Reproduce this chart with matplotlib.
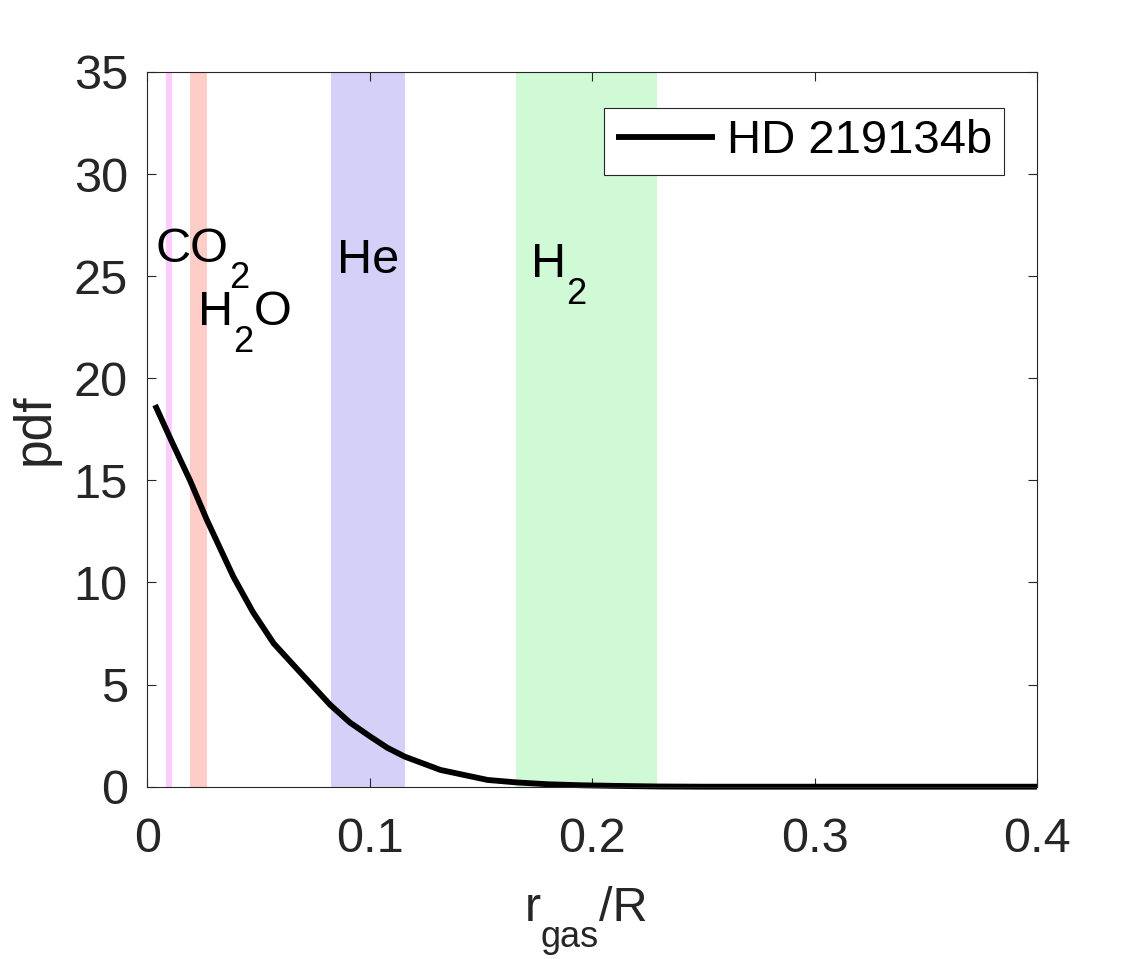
import matplotlib
matplotlib.use('Agg')
import matplotlib.pyplot as plt

# ---- data ----
r_gas = [0.0035, 0.0110, 0.0192, 0.0268, 0.0387, 0.0475, 0.0568, 0.0700, 0.0823,
         0.0910, 0.1003, 0.1080, 0.1158, 0.1318, 0.1530, 0.1660, 0.1800, 0.1950,
         0.2100, 0.2300, 0.2500, 0.3000, 0.3500, 0.4000]
pdf = [18.69, 16.90, 15.00, 13.06, 10.28, 8.55, 7.02, 5.45, 4.00,
       3.15, 2.45, 1.90, 1.47, 0.82, 0.33, 0.21, 0.12, 0.07,
       0.04, 0.01, 0.0, 0.0, 0.0, 0.0]

band_lo = [0.0084, 0.0192, 0.0826, 0.1656]
band_hi = [0.0113, 0.0270, 0.1157, 0.2292]
band_colors = ['#FFCCFF', '#FFCDC7', '#D5D0F7', '#D0F9D6']

# labels: list of (text, is_subscript) parts, anchor x, baseline y
gas_labels = [
    ([('CO', False), ('2', True)], 0.0038, 25.71),
    ([('H', False), ('2', True), ('O', False)], 0.0230, 22.61),
    ([('He', False)], 0.0853, 25.14),
    ([('H', False), ('2', True)], 0.1724, 24.96),
]

xticks = [0, 0.1, 0.2, 0.3, 0.4]
xtick_labels = ['0', '0.1', '0.2', '0.3', '0.4']
yticks = [0, 5, 10, 15, 20, 25, 30, 35]
legend_label = 'HD 219134b'

# ---- styling ----
plt.rcParams['font.family'] = ['Liberation Sans', 'DejaVu Sans']
FS = 35
SFS = 26
DROP = 19.2
AXC = '#262626'

fig = plt.figure(figsize=(11.36, 9.59), dpi=100)
ax = fig.add_axes([0.12967, 0.17967, 0.7832, 0.74526])

for lo, hi, c in zip(band_lo, band_hi, band_colors):
    ax.axvspan(lo, hi, color=c, lw=0, zorder=1)

ax.plot(r_gas, pdf, color='black', lw=4.2, solid_capstyle='butt',
        solid_joinstyle='round', label=legend_label, zorder=3, clip_on=False)

ax.set_xlim(0, 0.4)
ax.set_ylim(0, 35)
ax.set_xticks(xticks)
ax.set_xticklabels(xtick_labels)
ax.set_yticks(yticks)
ax.tick_params(direction='in', length=6.5, width=0.8, top=True, right=True,
               labelsize=FS, color=AXC, labelcolor=AXC)
ax.tick_params(axis='x', pad=22)
ax.tick_params(axis='y', pad=14)
for s in ax.spines.values():
    s.set_color(AXC)
    s.set_linewidth(0.8)
    s.set_zorder(4)


def chain_text(x, y, parts, coords='data', color='black', fs=FS):
    prev = None
    for txt, is_sub in parts:
        size = SFS if is_sub else fs
        dy = -DROP if is_sub else 0
        if prev is None:
            t = ax.annotate(txt, xy=(x, y), xycoords=coords, xytext=(0, dy),
                            textcoords='offset points', ha='left', va='baseline',
                            fontsize=size, color=color, zorder=5)
        else:
            t = ax.annotate(txt, xy=(1, y), xycoords=(prev, coords), xytext=(0, dy),
                            textcoords='offset points', ha='left', va='baseline',
                            fontsize=size, color=color, zorder=5)
        prev = t


for parts, x, y in gas_labels:
    chain_text(x, y, parts)

# x label: r_gas / R
chain_text(0.424, -0.1875, [('r', False), ('gas', True), ('/R', False)],
           coords='axes fraction', color=AXC)

ax.set_ylabel('pdf', fontsize=37, color=AXC)
ax.yaxis.set_label_coords(-0.098, 0.5)

leg = ax.legend(loc='upper right', bbox_to_anchor=(0.963, 0.9503), borderaxespad=0,
                fancybox=False, edgecolor=AXC, framealpha=1, fontsize=34,
                handlelength=2.1, handletextpad=0.25, borderpad=0.25)
leg.get_frame().set_linewidth(0.8)
leg.set_zorder(6)

fig.savefig('out.png', dpi=100)
